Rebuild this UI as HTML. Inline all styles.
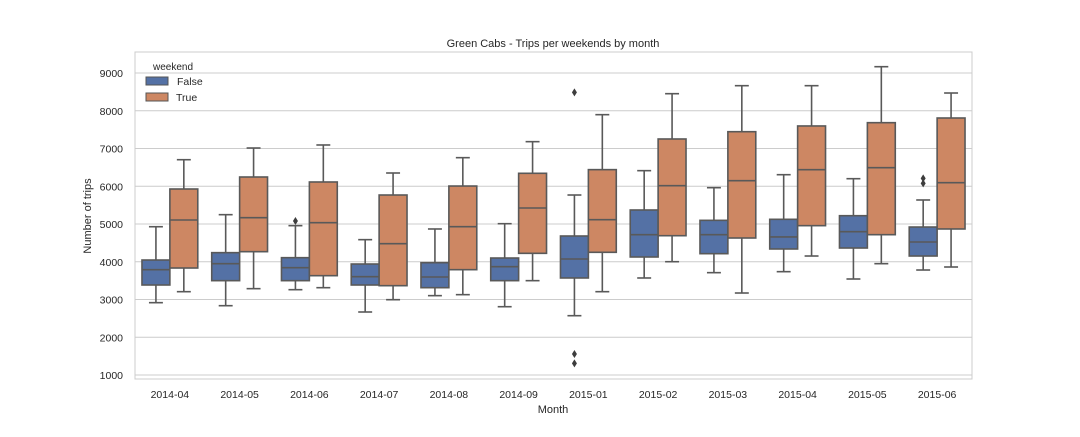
<!DOCTYPE html>
<html><head><meta charset="utf-8"><style>
body{margin:0;background:#fff;font-family:"Liberation Sans",sans-serif;}
</style></head><body>
<svg id="chart" width="1080" height="432" xmlns="http://www.w3.org/2000/svg" font-family="Liberation Sans, sans-serif">
<rect width="1080" height="432" fill="#fff"/>
<g id="grid"></g>
<g id="boxes"></g>
<rect x="135" y="52" width="837" height="327" fill="none" stroke="#cccccc" stroke-width="1"/>
<text x="553" y="47" font-size="11" text-anchor="middle" fill="#262626">Green Cabs - Trips per weekends by month</text>
<text x="553" y="413" font-size="11" text-anchor="middle" fill="#262626">Month</text>
<text transform="translate(91,216) rotate(-90)" font-size="11" text-anchor="middle" fill="#262626">Number of trips</text>
<g>
<text x="153" y="70" font-size="10" fill="#262626">weekend</text>
<rect x="146" y="77" width="22" height="8" fill="#5471a5" stroke="#555" stroke-width="1"/>
<text x="177" y="85" font-size="10.5" fill="#262626">False</text>
<rect x="146" y="93" width="22" height="8" fill="#cd8763" stroke="#555" stroke-width="1"/>
<text x="176" y="101" font-size="10.5" fill="#262626">True</text>
</g>
</svg>
<script>
const months=["2014-04","2014-05","2014-06","2014-07","2014-08","2014-09","2015-01","2015-02","2015-03","2015-04","2015-05","2015-06"];
const yTicks=[1000,2000,3000,4000,5000,6000,7000,8000,9000];
// [low, q1, median, q3, high]
const weekdayStats=[[2916,3384,3790,4046,4928],[2836,3499,3949,4241,5247],[3260,3499,3843,4108,4956],[2669,3384,3605,3940,4585],[3102,3313,3596,3975,4868],[2809,3499,3869,4099,5008],[2571,3570,4073,4682,5768],[3570,4126,4717,5371,6413],[3711,4214,4717,5097,5962],[3737,4338,4656,5124,6306],[3543,4364,4796,5220,6200],[3781,4152,4523,4920,5636]];
const weekendStats=[[3207,3834,5106,5927,6703],[3287,4267,5168,6245,7013],[3313,3631,5035,6113,7093],[2995,3366,4479,5768,6351],[3128,3790,4929,6006,6757],[3499,4223,5424,6343,7181],[3207,4250,5115,6440,7896],[4001,4690,6014,7252,8452],[3172,4629,6147,7445,8664],[4152,4956,6440,7597,8664],[3949,4717,6492,7684,9167],[3861,4868,6094,7808,8470]];
const weekdayOutliers=[[],[],[5079],[],[],[],[8488,1556,1309],[],[],[],[],[6209,6077]];
const weekendOutliers=[[],[],[],[],[],[],[],[],[],[],[],[]];
const NS="http://www.w3.org/2000/svg";
const X0=135,W=837,Y0=375,PX=0.03775;
const y=v=>Y0-(v-1000)*PX;
const gw=W/months.length;
const xc=i=>X0+gw*(i+0.5);
function mk(tag,attrs,parent){const e=document.createElementNS(NS,tag);for(const k in attrs)e.setAttribute(k,attrs[k]);parent.appendChild(e);return e;}
const grid=document.getElementById('grid'),boxes=document.getElementById('boxes'),svg=document.getElementById('chart');
yTicks.forEach(t=>{
 const l=mk('line',{x1:X0,x2:X0+W,y1:y(t),y2:y(t),stroke:'#cccccc','stroke-width':1},grid);
 
 
 const tx=mk('text',{x:X0-12,y:y(t)+4,'font-size':10.5,'text-anchor':'end',fill:'#262626'},svg);
 tx.textContent=t;
 
 
});
months.forEach((m,i)=>{
 const tx=mk('text',{x:xc(i),y:398,'font-size':10.5,'text-anchor':'middle',fill:'#262626'},svg);
 tx.textContent=m;
 
 
});
const bw=gw*0.4;
function drawBox(s,cx,color,outs,name){
 const g=mk('g',{},boxes);
 
 
 const st={stroke:'#595959','stroke-width':1.6};
 mk('line',Object.assign({x1:cx,x2:cx,y1:y(s[0]),y2:y(s[1])},st),g);
 mk('line',Object.assign({x1:cx,x2:cx,y1:y(s[3]),y2:y(s[4])},st),g);
 mk('line',Object.assign({x1:cx-bw/4,x2:cx+bw/4,y1:y(s[0]),y2:y(s[0])},st),g);
 mk('line',Object.assign({x1:cx-bw/4,x2:cx+bw/4,y1:y(s[4]),y2:y(s[4])},st),g);
 mk('rect',Object.assign({x:cx-bw/2,y:y(s[3]),width:bw,height:y(s[1])-y(s[3]),fill:color},st),g);
 mk('line',Object.assign({x1:cx-bw/2,x2:cx+bw/2,y1:y(s[2]),y2:y(s[2])},st),g);
 outs.forEach(o=>{
  const p=mk('path',{d:`M${cx},${y(o)-4} L${cx+2.5},${y(o)} L${cx},${y(o)+4} L${cx-2.5},${y(o)} Z`,fill:'#3d3d3d'},g);
  
  
 });
}
months.forEach((m,i)=>{
 drawBox(weekdayStats[i],xc(i)-bw/2,'#5471a5',weekdayOutliers[i],'box-false-'+m);
 drawBox(weekendStats[i],xc(i)+bw/2,'#cd8763',weekendOutliers[i],'box-true-'+m);
});
</script>
</body></html>
